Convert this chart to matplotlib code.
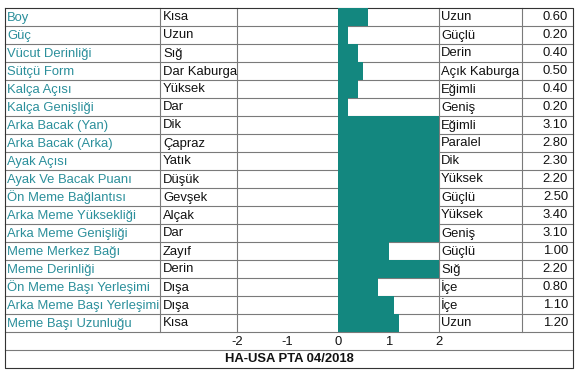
import matplotlib
matplotlib.use('Agg')
import matplotlib.pyplot as plt

plt.rcParams['font.family'] = ['Liberation Sans', 'DejaVu Sans']

# özellik adları ve uç tanımları
traits = ['Boy', 'Güç', 'Vücut Derinliği', 'Sütçü Form', 'Kalça Açısı', 'Kalça Genişliği',
          'Arka Bacak (Yan)', 'Arka Bacak (Arka)', 'Ayak Açısı', 'Ayak Ve Bacak Puanı',
          'Ön Meme Bağlantısı', 'Arka Meme Yüksekliği', 'Arka Meme Genişliği', 'Meme Merkez Bağı',
          'Meme Derinliği', 'Ön Meme Başı Yerleşimi', 'Arka Meme Başı Yerleşimi', 'Meme Başı Uzunluğu']
low_labels = ['Kısa', 'Uzun', 'Sığ', 'Dar Kaburga', 'Yüksek', 'Dar', 'Dik', 'Çapraz', 'Yatık',
              'Düşük', 'Gevşek', 'Alçak', 'Dar', 'Zayıf', 'Derin', 'Dışa', 'Dışa', 'Kısa']
high_labels = ['Uzun', 'Güçlü', 'Derin', 'Açık Kaburga', 'Eğimli', 'Geniş', 'Eğimli', 'Paralel', 'Dik',
               'Yüksek', 'Güçlü', 'Yüksek', 'Geniş', 'Güçlü', 'Sığ', 'İçe', 'İçe', 'Uzun']
values = [0.60, 0.20, 0.40, 0.50, 0.40, 0.20, 3.10, 2.80, 2.30, 2.20,
          2.50, 3.40, 3.10, 1.00, 2.20, 0.80, 1.10, 1.20]
ticks = [-2, -1, 0, 1, 2]
footer = 'HA-USA PTA 04/2018'

W, H = 578, 371
bar_color = '#13877f'
name_color = '#2b8f9b'
grid_color = '#7a7a7a'
fs = 9.4

fig = plt.figure(figsize=(W / 100, H / 100), dpi=100)

# tablo çizgileri ve yazılar (piksel koordinatında)
bg = fig.add_axes([0, 0, 1, 1])
bg.set_xlim(0, W)
bg.set_ylim(H, 0)
bg.axis('off')

top, row_h = 8, 18
n = len(traits)
left, right = 5, 573
c1, c2, c3, c4 = 160, 237, 439, 522
table_bottom = top + n * row_h

for i in range(1, n + 1):
    y = top + i * row_h
    bg.plot([left, right], [y, y], color=grid_color, lw=0.8)
bg.plot([left, right], [table_bottom + row_h] * 2, color=grid_color, lw=0.8)
for x in [c1, c2, c3, c4]:
    bg.plot([x, x], [top, table_bottom], color=grid_color, lw=0.8)
bg.plot([left, right, right, left, left],
        [top, top, table_bottom + 2 * row_h, table_bottom + 2 * row_h, top],
        color='#333333', lw=0.8)

for i in range(n):
    yc = top + (i + 0.5) * row_h + 0.5
    bg.text(left + 2, yc, traits[i], color=name_color, fontsize=fs, va='center', ha='left')
    bg.text(c1 + 3, yc, low_labels[i], color='#111111', fontsize=fs, va='center', ha='left')
    bg.text(c3 + 2, yc, high_labels[i], color='#111111', fontsize=fs, va='center', ha='left')
    bg.text(right - 5, yc, '%.2f' % values[i], color='#111111', fontsize=fs, va='center', ha='right')

bg.text((left + right) / 2, table_bottom + 1.5 * row_h + 0.5, footer, fontsize=fs,
        fontweight='bold', color='#111111', ha='center', va='center')

# çubuk alanı
ax = fig.add_axes([c2 / W, (H - table_bottom) / H, (c3 - c2) / W, (table_bottom - top) / H])
ax.set_facecolor('none')
ax.barh(range(n), values, height=0.96, color=bar_color, left=0)
ax.set_xlim(-2, 2)
ax.set_ylim(n - 0.5, -0.5)
ax.set_yticks([])
ax.set_xticks(ticks)
ax.set_xticklabels([str(t) for t in ticks])
ax.tick_params(axis='x', length=0, pad=3, labelsize=fs, labelcolor='#111111')
for s in ax.spines.values():
    s.set_visible(False)

fig.savefig('out.png', dpi=100)
